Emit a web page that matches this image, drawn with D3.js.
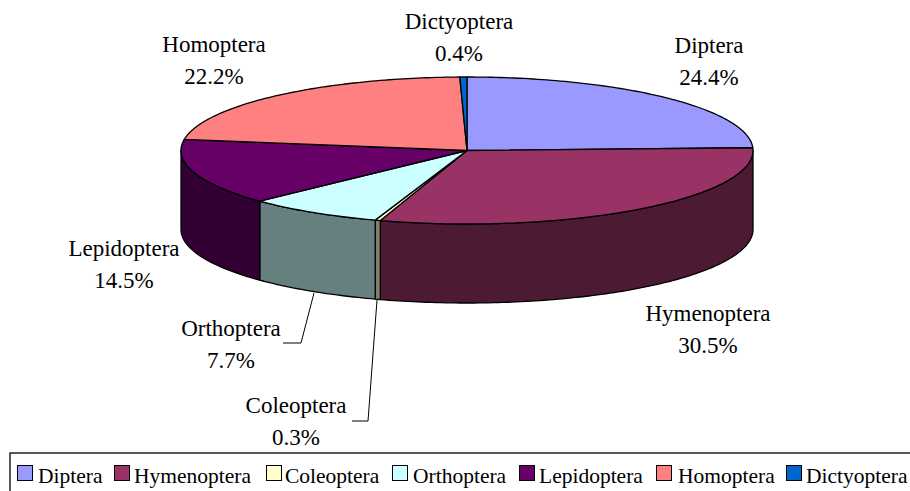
<!DOCTYPE html>
<html><head><meta charset="utf-8">
<script src="https://cdn.jsdelivr.net/npm/d3@7"></script>
<style>html,body{margin:0;background:#fff;overflow:hidden}svg{display:block}text{font-family:"Liberation Serif",serif;fill:#000}</style>
</head><body><svg id="c" width="910" height="491"></svg>
<script>
const categories=["Diptera","Hymenoptera","Coleoptera","Orthoptera","Lepidoptera","Homoptera","Dictyoptera"];
const shares=[24.4,30.5,0.3,7.7,14.5,22.2,0.4];
const colors=["#9999ff","#993366","#ffffcc","#ccffff","#660066","#ff8080","#0066cc"];
const labelAnchors=[[709,53],[708,321],[296,413],[231,336],[124,256],[214,52],[459,29]];
const legendSwatchX=[17,114,266,392,519,656,786];
const legendTextX=[38,134,285,413,539,678,806];

const svg=d3.select("#c");
const cx=467,cy=150.5,rx=286,ry=73.5,depth=79;
const px=d3.scaleLinear().domain([-1,1]).range([cx-rx,cx+rx]);
const py=d3.scaleLinear().domain([-1,1]).range([cy-ry,cy+ry]);
const arcs=d3.pie().sort(null).value(d=>d)(shares);
const pt=(t,dz=0)=>[px(Math.sin(t)),py(-Math.cos(t))+dz];
const sample=(a,b,dz=0)=>{const n=Math.max(2,Math.ceil(Math.abs(b-a)*60));return d3.range(n+1).map(i=>pt(a+(b-a)*i/n,dz));};
const line=d3.line();
const dark=c=>{const r=d3.rgb(c);return d3.rgb(r.r/2,r.g/2,r.b/2).formatHex();};

arcs.forEach((a,i)=>{
  const s=Math.max(a.startAngle,Math.PI/2),e=Math.min(a.endAngle,Math.PI*1.5);
  if(e<=s)return;
  const pts=sample(s,e).concat(sample(e,s,depth));
  svg.append("path").attr("d",line(pts)+"Z").attr("fill",dark(colors[i])).attr("stroke","#000").attr("stroke-width",1.3).attr("stroke-linejoin","round");
});
arcs.forEach((a,i)=>{
  const pts=[[cx,cy]].concat(sample(a.startAngle,a.endAngle));
  svg.append("path").attr("d",line(pts)+"Z").attr("fill",colors[i]).attr("stroke","#000").attr("stroke-width",1.3).attr("stroke-linejoin","round");
});
svg.append("path").attr("d",line([[314,293],[301,343],[283,343]])).attr("fill","none").attr("stroke","#000");
svg.append("path").attr("d",line([[377,300],[368,421],[352,421]])).attr("fill","none").attr("stroke","#000");
categories.forEach((c,i)=>{
  const g=svg.append("text").attr("text-anchor","middle").style("font-size","23px");
  g.append("tspan").attr("x",labelAnchors[i][0]).attr("y",labelAnchors[i][1]).text(c);
  g.append("tspan").attr("x",labelAnchors[i][0]).attr("y",labelAnchors[i][1]+31.5).text(shares[i].toFixed(1)+"%");
});
svg.append("rect").attr("x",10).attr("y",453).attr("width",910).attr("height",50).attr("fill","#fff").attr("stroke","#000").attr("stroke-width",1.3);
categories.forEach((c,i)=>{
  svg.append("rect").attr("x",legendSwatchX[i]+.5).attr("y",465.5).attr("width",15).attr("height",15).attr("fill",colors[i]).attr("stroke","#000");
  svg.append("text").attr("x",legendTextX[i]).attr("y",483).style("font-size","21.5px").text(c);
});
</script></body></html>
